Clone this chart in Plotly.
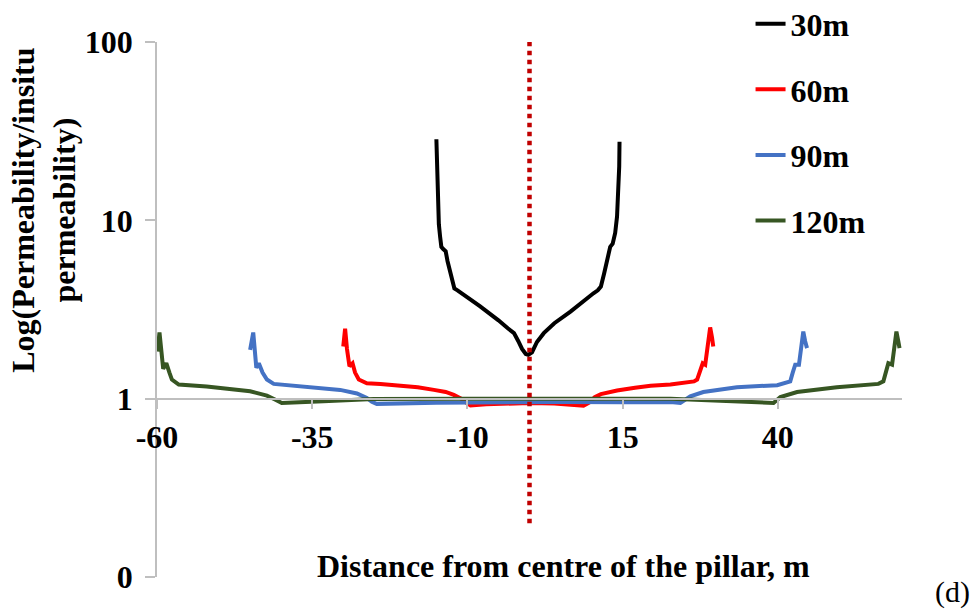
import plotly.graph_objects as go

# Permeability ratio across pillars of four widths (distance in m from pillar centre)
x_30m = [-15.0, -14.9, -14.8, -14.6, -14.4, -14.2, -13.9, -13.5, -13.2, -12.8, -12.4, -12.1,
         -11.6, -11.1, -10.0, -8.0, -6.8, -5.0, -3.5, -2.5, -1.8, -1.2, -0.6, -0.2,
         0.4, 1.2, 2.3, 4.0, 6.6, 8.5, 10.3, 11.0, 11.5, 12.0, 12.5, 13.0, 13.4,
         13.8, 14.1, 14.3, 14.45, 14.5]
y_30m = [28.5, 18.0, 13.6, 9.5, 8.1, 7.1, 6.9, 6.7, 5.9, 5.2, 4.4, 4.15,
         4.05, 3.95, 3.7, 3.3, 3.08, 2.75, 2.48, 2.33, 2.1, 1.9, 1.78, 1.76,
         1.82, 2.08, 2.33, 2.65, 3.08, 3.5, 3.9, 4.05, 4.25, 5.0, 6.0, 7.1, 7.4,
         8.5, 10.5, 14.0, 20.0, 27.6]

x_60m = [-30.0, -29.7, -29.4, -29.0, -28.5, -28.1, -27.5, -26.8, -26.2, -24.0, -20.8, -18.0,
         -15.4, -13.5, -12.2, -11.0, -10.2, -9.5, -7.0, -4.0, 0.0, 4.0, 7.0, 8.7,
         9.6, 10.5, 11.5, 14.1, 17.0, 19.5, 22.7, 24.8, 25.9, 26.5, 27.0, 27.5,
         27.9, 28.3, 28.7, 29.1, 29.4, 29.6]
y_60m = [1.96, 2.47, 1.9, 1.52, 1.58, 1.4, 1.28, 1.24, 1.22, 1.21, 1.19, 1.16,
         1.12, 1.09, 1.05, 1.0, 0.95, 0.915, 0.93, 0.94, 0.945, 0.94, 0.93, 0.913,
         0.95, 1.02, 1.06, 1.11, 1.15, 1.18, 1.2, 1.22, 1.23, 1.25, 1.28, 1.45,
         1.58, 1.55, 2.0, 2.51, 2.2, 1.96]

x_90m = [-45.0, -44.5, -44.0, -43.6, -43.0, -42.3, -41.2, -38.0, -35.8, -33.0, -30.5, -27.8,
         -26.2, -25.4, -24.6, -15.0, -4.7, 5.0, 15.0, 22.7, 24.3, 25.1, 25.9, 28.0,
         33.4, 39.9, 41.2, 42.0, 42.4, 42.8, 43.4, 43.7, 44.1, 44.4, 44.7]
y_90m = [1.88, 2.35, 1.49, 1.58, 1.4, 1.28, 1.21, 1.18, 1.16, 1.14, 1.12, 1.07,
         1.01, 0.96, 0.935, 0.95, 0.958, 0.958, 0.955, 0.958, 0.946, 0.98, 1.03, 1.09,
         1.16, 1.19, 1.22, 1.25, 1.4, 1.55, 1.55, 1.92, 2.38, 2.1, 1.92]

x_120m = [-59.9, -59.6, -59.0, -58.5, -58.0, -57.6, -56.5, -52.0, -45.0, -42.3, -41.0, -39.9,
          -33.2, -25.1, -10.0, 0.0, 10.0, 22.7, 30.7, 36.0, 39.3, 40.4, 43.1, 49.5,
          54.9, 56.2, 57.0, 57.4, 57.8, 58.4, 58.8, 59.1, 59.4, 59.6]
y_120m = [1.84, 2.35, 1.47, 1.58, 1.4, 1.28, 1.2, 1.17, 1.1, 1.04, 0.99, 0.946,
          0.966, 0.996, 1.0, 1.0, 1.0, 1.0, 0.975, 0.96, 0.946, 1.02, 1.09, 1.16,
          1.19, 1.21, 1.25, 1.4, 1.58, 1.55, 1.96, 2.38, 2.1, 1.92]

# Pillar centre marker
x_centre = [0, 0]
y_centre = [0.2, 100]

series_names = ["30m", "60m", "90m", "120m"]
series_colors = ["#000000", "#FF0000", "#4472C4", "#375623"]

x_tick_vals = [-60, -35, -10, 15, 40]
x_tick_text = ["-60", "-35", "-10", "15", "40"]
y_tick_vals = [0.1, 1, 10, 100]
y_tick_text = ["0", "1", "10", "100"]

FONT = "Liberation Serif"
AXIS_GREY = "#BFBFBF"

fig = go.Figure()
series = [(x_30m, y_30m), (x_60m, y_60m), (x_90m, y_90m), (x_120m, y_120m)]
for (xs, ys), name, color in zip(series, series_names, series_colors):
    fig.add_trace(go.Scatter(
        x=xs, y=ys, mode="lines", name=name, legendgroup=name,
        line=dict(color=color, width=4),
    ))

fig.add_trace(go.Scatter(
    x=x_centre, y=y_centre, mode="lines", showlegend=False, hoverinfo="skip",
    line=dict(color="#C00000", width=4.5, dash="dot"),
))

fig.update_layout(
    width=976, height=612,
    margin=dict(l=157, r=74, t=42, b=35, autoexpand=False),
    paper_bgcolor="white", plot_bgcolor="white",
    font=dict(family=FONT, size=32, color="black", weight="bold"),
    showlegend=True,
    legend=dict(
        xref="container", yref="container", x=0.769, y=0.80,
        xanchor="left", yanchor="middle",
        font=dict(family=FONT, size=32, color="black", weight="bold"),
        tracegroupgap=21, bgcolor="rgba(0,0,0,0)",
    ),
    xaxis=dict(
        range=[-60, 60], tickmode="array",
        tickvals=x_tick_vals, ticktext=x_tick_text,
        anchor="free", position=1 / 3,
        showline=True, linecolor=AXIS_GREY, linewidth=1.5,
        ticks="outside", ticklen=10, tickcolor=AXIS_GREY, tickwidth=1.5,
        showgrid=False, zeroline=False,
        tickfont=dict(family=FONT, size=32, color="black", weight="bold"),
        ticklabelstandoff=0,
    ),
    yaxis=dict(
        type="log", range=[-1, 2],
        tickvals=y_tick_vals, ticktext=y_tick_text,
        showline=True, linecolor=AXIS_GREY, linewidth=1.5,
        ticks="outside", ticklen=10, tickcolor=AXIS_GREY, tickwidth=1.5,
        showgrid=False, zeroline=False,
        tickfont=dict(family=FONT, size=32, color="black", weight="bold"),
        ticklabelstandoff=6,
    ),
    annotations=[
        dict(text="Log(Permeability/insitu<br>permeability)", textangle=-90,
             xref="paper", yref="paper", x=-0.152, y=0.686,
             xanchor="center", yanchor="middle", showarrow=False,
             font=dict(family=FONT, size=32, color="black", weight="bold")),
        dict(text="Distance from centre of the pillar, m",
             xref="paper", yref="paper", x=0.545, y=0.02,
             xanchor="center", yanchor="middle", showarrow=False,
             font=dict(family=FONT, size=32, color="black", weight="bold")),
        dict(text="(d)", xref="paper", yref="paper", x=1.068, y=-0.028,
             xanchor="center", yanchor="middle", showarrow=False,
             font=dict(family=FONT, size=30, color="black", weight="normal")),
    ],
)

fig.write_html("out.html")
